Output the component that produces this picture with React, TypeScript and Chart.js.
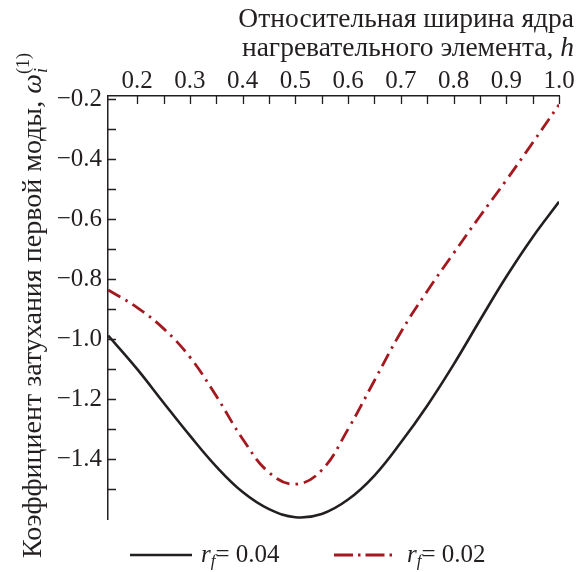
import React, { useEffect, useRef } from 'react';
import { Chart, registerables } from 'chart.js';

Chart.register(...registerables);

// ---- data ----
const hValues = [0.145, 0.2, 0.25, 0.3, 0.35, 0.4, 0.45, 0.5, 0.55, 0.6, 0.65, 0.7, 0.75, 0.8, 0.85, 0.9, 0.95, 1.0];
const rf004 = [-0.988, -1.1, -1.212, -1.322, -1.425, -1.51, -1.567, -1.594, -1.583, -1.535, -1.455, -1.345, -1.222, -1.085, -0.937, -0.792, -0.66, -0.542];
const rf002 = [-0.836, -0.895, -0.965, -1.06, -1.19, -1.333, -1.445, -1.484, -1.437, -1.3, -1.138, -0.977, -0.84, -0.714, -0.59, -0.47, -0.345, -0.218];

const xLabelTicks = [0.2, 0.3, 0.4, 0.5, 0.6, 0.7, 0.8, 0.9, 1.0];
const xTickMarks = [0.2, 0.25, 0.3, 0.35, 0.4, 0.45, 0.5, 0.55, 0.6, 0.65, 0.7, 0.75, 0.8, 0.85, 0.9, 0.95, 1.0];
const yLabelTicks = [-1.4, -1.2, -1.0, -0.8, -0.6, -0.4, -0.2];
const yTickMarks = [-1.5, -1.4, -1.3, -1.2, -1.1, -1.0, -0.9, -0.8, -0.7, -0.6, -0.5, -0.4, -0.3, -0.2];

const xTitleLine1 = 'Относительная ширина ядра';
const xTitleLine2 = 'нагревательного элемента, ';
const xTitleVar = 'h';
const yTitle = 'Коэффициент затухания первой моды, ';
const seriesLabels = ['0.04', '0.02'];

const INK = '#231f20';
const RED = '#a3191f';
const SERIF = "'Liberation Serif', 'Times New Roman', serif";
const f = (size: number, italic = false) => `${italic ? 'italic ' : ''}${size}px ${SERIF}`;

const X_MIN = 0.1446, X_MAX = 1.0, Y_MIN = -1.6, Y_MAX = -0.189;
const TITLE = 27.5;
const YTITLE = 28;
const TICK = 25;

type Run = { text: string; font: string; dy?: number };

function runsWidth(ctx: CanvasRenderingContext2D, runs: Run[]) {
  let w = 0;
  for (const r of runs) { ctx.font = r.font; w += ctx.measureText(r.text).width; }
  return w;
}
function drawRuns(ctx: CanvasRenderingContext2D, x: number, y: number, runs: Run[]) {
  let cx = x;
  for (const r of runs) {
    ctx.font = r.font;
    ctx.fillText(r.text, cx, y + (r.dy || 0));
    cx += ctx.measureText(r.text).width;
  }
  return cx;
}

const decorPlugin = {
  id: 'decor',
  afterDraw(chart: any) {
    const { ctx, chartArea, scales } = chart;
    const xs = scales.x, ys = scales.y;
    ctx.save();
    // inward tick marks
    ctx.strokeStyle = INK;
    ctx.lineWidth = 1.3;
    ctx.beginPath();
    for (const v of xTickMarks) {
      const px = Math.round(xs.getPixelForValue(v)) + 0.5;
      ctx.moveTo(px, chartArea.top);
      ctx.lineTo(px, chartArea.top + 8);
    }
    for (const v of yTickMarks) {
      const py = Math.round(ys.getPixelForValue(v)) + 0.5;
      ctx.moveTo(chartArea.left, py);
      ctx.lineTo(chartArea.left + 8, py);
    }
    ctx.stroke();

    ctx.fillStyle = INK;
    ctx.textBaseline = 'alphabetic';
    ctx.textAlign = 'left';

    // x title (top, right aligned)
    const right = 574;
    const l1: Run[] = [{ text: xTitleLine1, font: f(TITLE) }];
    drawRuns(ctx, right - runsWidth(ctx, l1), 27, l1);
    const l2: Run[] = [{ text: xTitleLine2, font: f(TITLE) }, { text: xTitleVar, font: f(TITLE, true) }];
    drawRuns(ctx, right - runsWidth(ctx, l2), 56, l2);

    // y title (rotated)
    ctx.save();
    ctx.translate(41, 558);
    ctx.rotate(-Math.PI / 2);
    const cx = drawRuns(ctx, 0, 0, [{ text: yTitle, font: f(YTITLE) }, { text: 'ω', font: f(YTITLE, true) }]);
    ctx.font = f(18, true);
    ctx.fillText('i', cx + 1, 6);
    ctx.font = f(18);
    ctx.fillText('(1)', cx, -12);
    ctx.restore();

    // legend
    const ly = 555;
    ctx.lineWidth = 2.6;
    ctx.strokeStyle = INK;
    ctx.setLineDash([]);
    ctx.beginPath(); ctx.moveTo(130, ly); ctx.lineTo(192, ly); ctx.stroke();
    ctx.strokeStyle = RED;
    ctx.lineWidth = 2.8;
    ctx.setLineDash([19, 5, 2.5, 5]);
    ctx.beginPath(); ctx.moveTo(334, ly); ctx.lineTo(397, ly); ctx.stroke();
    ctx.setLineDash([]);
    const legendText = (x: number, val: string) => drawRuns(ctx, x, 562, [
      { text: 'r', font: f(TICK, true) },
      { text: 'f', font: f(17, true), dy: 4 },
      { text: '= ' + val, font: f(TICK) },
    ]);
    ctx.fillStyle = INK;
    legendText(201, seriesLabels[0]);
    legendText(407, seriesLabels[1]);
    ctx.restore();
  },
};

export default function App() {
  const ref = useRef<HTMLCanvasElement>(null);
  useEffect(() => {
    if (!ref.current) return;
    const chart = new Chart(ref.current, {
      type: 'line',
      data: {
        datasets: [
          {
            label: 'rf = ' + seriesLabels[0],
            data: hValues.map((x, i) => ({ x, y: rf004[i] })),
            borderColor: INK,
            borderWidth: 2.6,
            pointRadius: 0,
            tension: 0.4,
            fill: false,
          },
          {
            label: 'rf = ' + seriesLabels[1],
            data: hValues.map((x, i) => ({ x, y: rf002[i] })),
            borderColor: RED,
            borderWidth: 2.8,
            borderDash: [14, 6, 2.5, 6],
            pointRadius: 0,
            tension: 0.4,
            fill: false,
          },
        ],
      },
      options: {
        animation: false,
        responsive: false,
        maintainAspectRatio: false,
        layout: { padding: { left: 0, top: 0, right: 28, bottom: 53 } },
        plugins: { legend: { display: false }, tooltip: { enabled: false } },
        scales: {
          x: {
            type: 'linear',
            position: 'top',
            min: X_MIN,
            max: X_MAX,
            afterBuildTicks: (s: any) => { s.ticks = xLabelTicks.map((v) => ({ value: v })); },
            afterFit: (s: any) => { s.height = 96; },
            grid: { display: false, drawTicks: false },
            border: { display: true, color: INK, width: 1.5 },
            ticks: {
              autoSkip: false,
              maxRotation: 0,
              padding: 0,
              color: INK,
              font: { family: SERIF, size: TICK },
              callback: (v: any) => Number(v).toFixed(1),
            },
          },
          y: {
            type: 'linear',
            position: 'left',
            min: Y_MIN,
            max: Y_MAX,
            afterBuildTicks: (s: any) => { s.ticks = yLabelTicks.map((v) => ({ value: v })); },
            afterFit: (s: any) => { s.width = 108; },
            grid: { display: false, drawTicks: false },
            border: { display: true, color: INK, width: 1.5 },
            ticks: {
              autoSkip: false,
              padding: 6,
              color: INK,
              font: { family: SERIF, size: TICK },
              callback: (v: any) => '\u2212' + Math.abs(Number(v)).toFixed(1),
            },
          },
        },
      },
      plugins: [decorPlugin],
    } as any);
    return () => chart.destroy();
  }, []);
  return (
    <div style={{ position: 'absolute', left: 0, top: 0, width: 587, height: 572, background: '#fff' }}>
      <canvas ref={ref} width={587} height={572} />
    </div>
  );
}
